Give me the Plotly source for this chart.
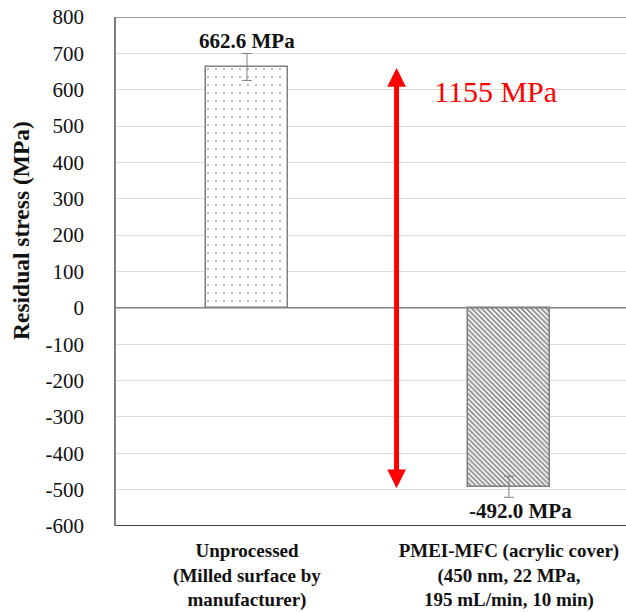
import plotly.graph_objects as go

categories = ["<b>Unprocessed<br>(Milled surface by<br>manufacturer)</b>",
              "<b>PMEI-MFC (acrylic cover)<br>(450 nm, 22 MPa,<br>195 mL/min, 10 min)</b>"]
cat_pos = [0, 1]
values = [662.6, -492.0]
errors = [37, 29]
value_labels = ["662.6 MPa", "-492.0 MPa"]
diff_label = "1155 MPa"
y_ticks = list(range(-600, 801, 100))
y_ticktext = [str(v) for v in y_ticks]

FONT = "Times New Roman"

fig = go.Figure()

fig.add_trace(go.Bar(
    x=[cat_pos[0]], y=[values[0]], width=0.313,
    marker=dict(color="white",
                line=dict(color="#7f7f7f", width=1.5),
                pattern=dict(shape=".", fgcolor="#555555", bgcolor="white",
                             size=8, solidity=0.06)),
    error_y=dict(type="data", array=[errors[0]], color="#7f7f7f",
                 thickness=1, width=5),
    showlegend=False,
))
fig.add_trace(go.Bar(
    x=[cat_pos[1]], y=[values[1]], width=0.313,
    marker=dict(color="white",
                line=dict(color="#7f7f7f", width=1.5),
                pattern=dict(shape="\\", fgcolor="#111111", bgcolor="white",
                             size=3.5, solidity=0.5)),
    error_y=dict(type="data", array=[errors[1]], color="#7f7f7f",
                 thickness=1, width=5),
    showlegend=False,
))

# value labels
fig.add_annotation(x=cat_pos[0], y=735, text="<b>" + value_labels[0] + "</b>",
                   showarrow=False, xanchor="center", yanchor="middle",
                   font=dict(family=FONT, size=21, color="#111"))
fig.add_annotation(x=cat_pos[1] + 0.045, y=-560, text="<b>" + value_labels[1] + "</b>",
                   showarrow=False, xanchor="center", yanchor="middle",
                   font=dict(family=FONT, size=21, color="#111"))

# double arrow
fig.add_annotation(x=0.571, y=660, ax=0.571, ay=-500, axref="x", ayref="y",
                   xref="x", yref="y", text="", showarrow=True,
                   arrowside="end+start", arrowhead=2, startarrowhead=2,
                   arrowwidth=5, arrowsize=0.75, startarrowsize=0.75,
                   arrowcolor="#ff0000")
fig.add_annotation(x=0.95, y=594, text=diff_label, showarrow=False,
                   xanchor="center", yanchor="middle",
                   font=dict(family=FONT, size=30, color="#ff0000"))

# y-axis title
fig.add_annotation(xref="paper", yref="paper", x=(21 - 116) / 510,
                   y=(526 - 231) / 509,
                   text="<b>Residual stress (MPa)</b>", textangle=-90,
                   showarrow=False, xanchor="center", yanchor="middle",
                   font=dict(family=FONT, size=23.5, color="#111"))

# frame lines
fig.add_shape(type="line", xref="paper", yref="y", x0=0, x1=1, y0=800, y1=800,
              line=dict(color="#808080", width=1.5))
fig.add_shape(type="line", xref="paper", yref="y", x0=0, x1=1, y0=0, y1=0,
              line=dict(color="#808080", width=1.5))
fig.add_shape(type="line", xref="paper", yref="y", x0=0, x1=1, y0=-600, y1=-600,
              line=dict(color="#000000", width=1.5))

fig.update_layout(
    width=626, height=612,
    margin=dict(l=116, r=0, t=17, b=86),
    paper_bgcolor="white", plot_bgcolor="white",
    font=dict(family=FONT, size=20, color="#111"),
    bargap=0,
)
fig.update_xaxes(range=[-0.5, 1.447], tickvals=cat_pos, ticktext=categories,
                 showgrid=False, zeroline=False, showline=False,
                 ticks="", tickfont=dict(family=FONT, size=19, color="#111"),
                 ticklabelstandoff=11, automargin=False, fixedrange=True)
fig.update_yaxes(range=[-600, 800], tickvals=y_ticks, ticktext=y_ticktext,
                 showgrid=True, gridcolor="#dcdcdc", gridwidth=1,
                 zeroline=False, showline=True, linecolor="#808080", linewidth=1.5,
                 ticks="", ticklabelstandoff=26, automargin=False,
                 tickfont=dict(family=FONT, size=21, color="#111"),
                 fixedrange=True)

fig.write_html("out.html")
